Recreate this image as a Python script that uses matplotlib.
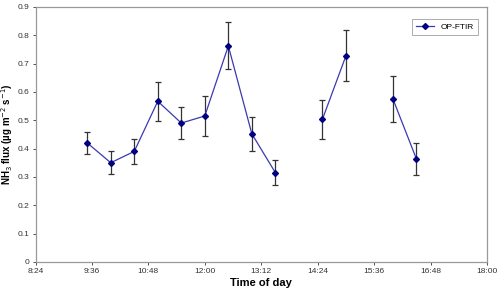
import matplotlib
matplotlib.use("Agg")
import matplotlib.pyplot as plt
import numpy as np

plt.rcParams["font.family"] = ["Liberation Sans", "DejaVu Sans"]

# times in minutes after midnight; NaN rows break the line
times = [570, 600, 630, 660, 690, 720, 750, 780, 810, 840, 870, 900, 930, 960, 990]
flux = [0.42, 0.35, 0.39, 0.567, 0.49, 0.515, 0.762, 0.452, 0.315,
        np.nan, 0.503, 0.727, np.nan, 0.575, 0.363]
err = [0.04, 0.04, 0.045, 0.068, 0.056, 0.071, 0.083, 0.061, 0.045,
       np.nan, 0.07, 0.09, np.nan, 0.081, 0.056]
tick_min = [504, 576, 648, 720, 792, 864, 936, 1008, 1080]
tick_labels = ["8:24", "9:36", "10:48", "12:00", "13:12", "14:24", "15:36", "16:48", "18:00"]

fig, ax = plt.subplots(figsize=(5.0, 2.98), dpi=100)
fig.subplots_adjust(left=0.071, right=0.974, top=0.977, bottom=0.121)

ax.errorbar(times, flux, yerr=err, fmt="none", ecolor="#333333",
            elinewidth=0.9, capsize=2.2, capthick=0.9, zorder=2)
ax.plot(times, flux, color="#3a3ab0", lw=0.9, marker="D", markersize=3,
        markerfacecolor="#000080", markeredgecolor="#000080",
        label="OP-FTIR", zorder=3)

ax.set_xlim(504, 1080)
ax.set_ylim(0, 0.9)
ax.set_xticks(tick_min)
ax.set_xticklabels(tick_labels)
ax.set_yticks(np.arange(0, 0.91, 0.1))
ax.set_yticklabels(["0"] + [f"{v:.1f}" for v in np.arange(0.1, 0.91, 0.1)])
ax.tick_params(labelsize=6, colors="#333333", length=2.5, width=0.6, pad=2)

for s in ax.spines.values():
    s.set_color("#999999")
    s.set_linewidth(0.9)

ax.set_xlabel("Time of day", fontsize=8, fontweight="bold", labelpad=2)
ax.set_ylabel("NH$_3$ flux (µg m$^{-2}$ s$^{-1}$)", fontsize=7, fontweight="bold", labelpad=2)

leg = ax.legend(loc="upper right", fontsize=6, frameon=True, fancybox=False,
                handlelength=2.2, borderpad=0.5, bbox_to_anchor=(0.99, 0.97))
leg.get_frame().set_edgecolor("#888888")
leg.get_frame().set_linewidth(0.6)

fig.savefig("out.png", dpi=100)
